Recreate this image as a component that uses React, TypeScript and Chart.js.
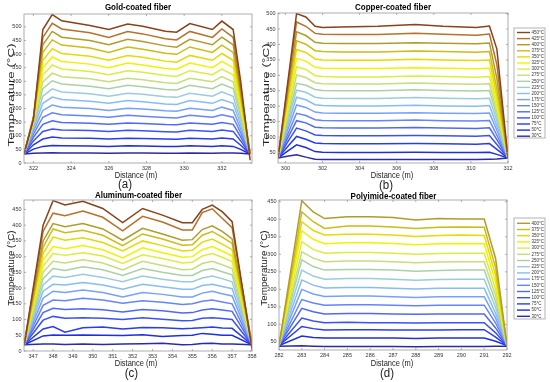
import React, { useEffect, useRef } from 'react';
import { Chart, registerables } from 'chart.js';
Chart.register(...registerables);

const FONT = '"Liberation Sans", Arial, Helvetica, sans-serif';

// Setpoint temperatures (°C) for each curve, lowest first
const setpoints = [30, 50, 75, 100, 125, 150, 175, 200, 225, 250, 275, 300, 325, 350, 375, 400, 425, 450];
const seriesLabels = setpoints.map((t) => `${t}°C`);
const seriesColors = [
  '#2b2ba8', '#1e2ee0', '#2a3cf0', '#3c50f8', '#5068fa', '#6684fc', '#78a0fc', '#88bcf4', '#9ccbdc',
  '#aad0a8', '#c4de7c', '#dcec40', '#f2f200', '#e6da00', '#ccbc14', '#b09c2a', '#b8702a', '#8a4218',
];

// (a) Gold-coated fiber
const goldX = [321.5, 322.0, 322.5, 323.0, 323.5, 325.0, 326.0, 327.0, 327.8, 329.0, 329.6, 330.3, 331.5, 332.0, 332.6, 333.0, 333.5];
const gold = [
  [33, 36, 37, 38, 37, 37, 36, 37, 37, 36, 36, 37, 36, 37, 37, 36, 33],
  [33, 51, 61, 64, 63, 62, 61, 63, 62, 61, 61, 63, 61, 63, 61, 50, 33],
  [33, 67, 88, 95, 92, 91, 88, 91, 90, 88, 87, 91, 88, 92, 88, 65, 33],
  [33, 81, 116, 125, 121, 119, 116, 120, 118, 115, 114, 120, 116, 121, 116, 81, 33],
  [33, 94, 142, 155, 149, 146, 142, 147, 145, 141, 140, 147, 142, 149, 142, 96, 33],
  [33, 106, 168, 184, 177, 173, 168, 175, 172, 167, 165, 175, 168, 177, 168, 110, 33],
  [33, 117, 193, 213, 205, 200, 193, 201, 198, 192, 190, 201, 193, 205, 193, 125, 33],
  [33, 126, 219, 242, 233, 227, 219, 229, 225, 217, 215, 229, 219, 233, 219, 140, 33],
  [33, 135, 245, 272, 261, 254, 245, 256, 252, 243, 241, 256, 245, 261, 245, 154, 33],
  [33, 143, 273, 302, 290, 282, 273, 285, 280, 270, 268, 285, 273, 290, 273, 170, 33],
  [33, 149, 298, 330, 317, 309, 298, 311, 306, 295, 292, 311, 298, 317, 298, 184, 33],
  [33, 154, 324, 360, 345, 336, 324, 339, 333, 321, 318, 339, 324, 345, 324, 199, 33],
  [33, 158, 350, 389, 373, 363, 350, 367, 360, 347, 344, 367, 350, 373, 350, 214, 33],
  [33, 162, 377, 420, 402, 392, 377, 395, 388, 374, 370, 395, 377, 402, 377, 229, 33],
  [33, 165, 406, 452, 433, 422, 406, 426, 418, 403, 399, 426, 406, 433, 406, 246, 33],
  [33, 167, 434, 483, 462, 450, 434, 454, 446, 430, 425, 454, 434, 462, 434, 261, 33],
  [33, 167, 461, 513, 492, 478, 461, 483, 474, 456, 452, 483, 461, 492, 461, 276, 33],
  [33, 160, 490, 545, 522, 505, 490, 510, 502, 484, 480, 512, 490, 521, 490, 300, 10],
];

// (b) Copper-coated fiber
const copperX = [299.6, 300.1, 300.6, 301.1, 301.6, 302.0, 303.0, 305.0, 307.0, 308.5, 310.3, 311.0, 311.4, 312.0];
const copper = [
  [32, 38, 43, 35, 28, 27, 27, 27, 27, 27, 27, 28, 29, 32],
  [32, 54, 75, 66, 53, 51, 50, 50, 51, 50, 50, 51, 44, 32],
  [32, 68, 102, 93, 81, 79, 78, 78, 79, 78, 77, 79, 60, 32],
  [32, 82, 129, 120, 107, 105, 104, 104, 105, 104, 103, 105, 76, 32],
  [32, 94, 153, 146, 132, 130, 129, 129, 131, 129, 128, 130, 92, 32],
  [32, 106, 177, 170, 156, 154, 153, 153, 155, 153, 152, 154, 106, 32],
  [32, 120, 204, 196, 181, 178, 177, 177, 179, 177, 176, 178, 122, 32],
  [32, 132, 229, 221, 205, 202, 201, 201, 203, 201, 200, 202, 136, 32],
  [32, 144, 252, 245, 229, 226, 225, 225, 228, 226, 224, 226, 151, 32],
  [32, 155, 274, 268, 254, 251, 250, 250, 253, 251, 249, 251, 167, 32],
  [32, 168, 301, 293, 276, 273, 272, 272, 275, 273, 271, 273, 180, 32],
  [32, 181, 328, 319, 299, 296, 295, 295, 298, 296, 294, 296, 195, 32],
  [32, 195, 355, 346, 326, 323, 322, 322, 325, 323, 321, 323, 212, 32],
  [32, 210, 384, 374, 353, 350, 349, 349, 352, 350, 348, 350, 232, 32],
  [32, 224, 412, 401, 380, 377, 376, 376, 379, 377, 375, 377, 256, 32],
  [32, 238, 441, 429, 407, 404, 403, 403, 406, 404, 402, 405, 290, 32],
  [32, 254, 473, 459, 436, 433, 432, 432, 436, 433, 430, 434, 335, 32],
  [32, 265, 500, 489, 459, 455, 457, 459, 465, 459, 455, 460, 385, 32],
];

// (c) Aluminum-coated fiber
const aluminumX = [346.55, 347.5, 348.0, 348.6, 349.5, 350.5, 351.5, 352.5, 353.5, 354.5, 355.0, 355.5, 356.0, 356.5, 357.0, 358.0];
const aluminum = [
  [20, 22, 22, 21, 22, 21, 22, 23, 25, 20, 21, 24, 25, 22, 22, 20],
  [20, 48, 51, 50, 51, 50, 49, 52, 46, 49, 50, 56, 53, 50, 50, 20],
  [20, 70, 78, 60, 74, 76, 70, 75, 74, 71, 72, 74, 76, 73, 72, 20],
  [20, 98, 110, 104, 106, 104, 100, 106, 101, 96, 97, 104, 106, 103, 100, 20],
  [20, 122, 136, 132, 134, 131, 124, 132, 128, 121, 122, 130, 134, 130, 126, 20],
  [20, 145, 162, 160, 168, 162, 152, 160, 155, 148, 150, 158, 162, 156, 150, 20],
  [20, 168, 190, 186, 194, 186, 172, 186, 180, 172, 172, 184, 190, 182, 175, 20],
  [20, 190, 212, 210, 218, 210, 196, 212, 204, 196, 196, 208, 212, 205, 198, 20],
  [20, 210, 238, 234, 244, 234, 220, 238, 228, 220, 220, 232, 238, 230, 220, 20],
  [20, 230, 262, 256, 268, 258, 240, 262, 250, 240, 240, 256, 262, 252, 242, 20],
  [20, 250, 285, 280, 290, 280, 258, 285, 272, 258, 260, 278, 285, 274, 262, 20],
  [20, 270, 310, 304, 312, 302, 278, 306, 294, 280, 282, 302, 310, 298, 284, 20],
  [20, 290, 332, 325, 335, 322, 296, 328, 312, 298, 300, 322, 332, 318, 302, 20],
  [20, 310, 362, 352, 360, 345, 318, 350, 335, 318, 320, 346, 356, 340, 322, 20],
  [20, 330, 388, 376, 384, 368, 335, 372, 356, 336, 338, 368, 380, 362, 342, 20],
  [20, 350, 405, 395, 405, 388, 352, 390, 372, 352, 354, 386, 398, 380, 356, 20],
  [20, 380, 438, 430, 445, 425, 382, 428, 410, 385, 385, 440, 452, 422, 392, 20],
  [19, 400, 478, 464, 476, 453, 408, 453, 432, 408, 408, 450, 464, 443, 411, 5],
];

// (d) Polyimide-coated fiber
const polyimideX = [282, 283, 283.5, 284, 285, 286, 287, 288, 289, 290, 291, 291.5, 292];
const polyimide = [
  [38, 39, 38, 37, 37, 37, 37, 36, 37, 37, 37, 38, 38],
  [40, 67, 63, 61, 61, 61, 61, 60, 61, 61, 61, 52, 40],
  [40, 94, 88, 84, 85, 85, 84, 84, 84, 85, 85, 64, 40],
  [40, 118, 110, 105, 106, 105, 105, 104, 105, 105, 105, 76, 40],
  [40, 146, 136, 130, 131, 131, 130, 129, 130, 130, 130, 90, 40],
  [40, 171, 161, 155, 156, 156, 155, 153, 155, 155, 155, 104, 40],
  [40, 200, 187, 180, 181, 181, 179, 177, 179, 179, 179, 118, 40],
  [40, 227, 212, 204, 205, 205, 203, 201, 203, 203, 203, 132, 40],
  [40, 255, 238, 229, 231, 231, 229, 226, 228, 229, 229, 148, 40],
  [40, 284, 265, 255, 257, 257, 255, 252, 254, 255, 255, 165, 40],
  [40, 307, 289, 279, 281, 281, 279, 276, 278, 279, 279, 182, 40],
  [40, 336, 314, 303, 305, 305, 303, 300, 302, 303, 303, 200, 40],
  [40, 367, 343, 330, 333, 333, 331, 327, 330, 331, 330, 220, 40],
  [40, 393, 368, 355, 357, 357, 355, 351, 354, 355, 354, 240, 40],
  [40, 421, 393, 374, 381, 381, 378, 374, 377, 378, 377, 262, 40],
  [40, 453, 421, 402, 407, 407, 405, 398, 402, 401, 401, 288, 40],
];

type LegendCfg = { dx: number; dy: number; w: number; h: number; first: number; step: number };
type PanelCfg = {
  xs: number[]; series: number[][];
  xmin: number; xmax: number; xstep: number;
  ymin: number; ymax: number;
  left: number; top: number; w: number; h: number; padR: number;
  legend?: LegendCfg;
};

const panels: PanelCfg[] = [
  { xs: goldX, series: gold, xmin: 321.5, xmax: 333.6, xstep: 2, ymin: 0, ymax: 547,
    left: 0, top: 8, w: 260, h: 167, padR: 8 },
  { xs: copperX, series: copper, xmin: 299.6, xmax: 312, xstep: 2, ymin: 16, ymax: 502,
    left: 254, top: 7, w: 296, h: 168, padR: 42,
    legend: { dx: 6, dy: 15, w: 31, h: 110, first: 4.5, step: 6.1 } },
  { xs: aluminumX, series: aluminum, xmin: 346.54, xmax: 358, xstep: 1, ymin: 0, ymax: 480,
    left: 0, top: 194, w: 260, h: 169, padR: 8 },
  { xs: polyimideX, series: polyimide, xmin: 282, xmax: 292, xstep: 1, ymin: 27, ymax: 455,
    left: 255, top: 194, w: 295, h: 168, padR: 43,
    legend: { dx: 7, dy: 18, w: 31, h: 101, first: 5.3, step: 6.2 } },
];

function framePlugin(legend?: LegendCfg) {
  return {
    id: 'frameAndLegend',
    afterDraw(chart: any) {
      const { ctx, chartArea: a, scales } = chart;
      ctx.save();
      ctx.strokeStyle = '#9a9a9a';
      ctx.lineWidth = 0.8;
      ctx.strokeRect(a.left, a.top, a.right - a.left, a.bottom - a.top);
      ctx.beginPath();
      for (const t of scales.x.ticks) {
        const px = scales.x.getPixelForValue(t.value);
        ctx.moveTo(px, a.bottom); ctx.lineTo(px, a.bottom - 2);
        ctx.moveTo(px, a.top); ctx.lineTo(px, a.top + 2);
      }
      for (const t of scales.y.ticks) {
        const py = scales.y.getPixelForValue(t.value);
        ctx.moveTo(a.left, py); ctx.lineTo(a.left + 2, py);
        ctx.moveTo(a.right, py); ctx.lineTo(a.right - 2, py);
      }
      ctx.stroke();
      if (legend) {
        const ds = chart.data.datasets;
        const x0 = a.right + legend.dx;
        const y0 = a.top + legend.dy;
        ctx.fillStyle = '#ffffff';
        ctx.fillRect(x0, y0, legend.w, legend.h);
        ctx.strokeStyle = '#a0a0a0';
        ctx.lineWidth = 0.8;
        ctx.strokeRect(x0, y0, legend.w, legend.h);
        ctx.font = `4.5px ${FONT}`;
        ctx.textBaseline = 'middle';
        ctx.textAlign = 'left';
        for (let k = 0; k < ds.length; k++) {
          const d = ds[ds.length - 1 - k];
          const y = y0 + legend.first + k * legend.step;
          ctx.strokeStyle = d.borderColor;
          ctx.lineWidth = 1.4;
          ctx.beginPath();
          ctx.moveTo(x0 + 3, y);
          ctx.lineTo(x0 + 16, y);
          ctx.stroke();
          ctx.fillStyle = '#333333';
          ctx.fillText(d.label, x0 + 17.5, y);
        }
      }
      ctx.restore();
    },
  };
}

function buildConfig(p: PanelCfg): any {
  const datasets = p.series.map((vals, i) => ({
    label: seriesLabels[i],
    data: p.xs.map((x, j) => ({ x, y: vals[j] })),
    borderColor: seriesColors[i],
    backgroundColor: seriesColors[i],
    borderWidth: 1.5,
    pointRadius: 0,
    tension: 0,
    fill: false,
    order: -i,
  }));
  const tickFont = { family: FONT, size: 5.5 };
  return {
    type: 'line',
    data: { datasets },
    options: {
      responsive: false,
      animation: false,
      devicePixelRatio: 1,
      events: [],
      layout: { padding: { left: 0, top: 6, right: p.padR, bottom: 0 } },
      plugins: { legend: { display: false }, title: { display: false }, tooltip: { enabled: false } },
      scales: {
        x: {
          type: 'linear', min: p.xmin, max: p.xmax,
          grid: { display: false, drawTicks: false }, border: { display: false },
          ticks: { stepSize: p.xstep, font: tickFont, color: '#333', padding: 2, maxRotation: 0,
            autoSkip: false, includeBounds: false, maxTicksLimit: 30 },
          afterFit: (s: any) => { s.height = 12; },
        },
        y: {
          type: 'linear', min: p.ymin, max: p.ymax,
          grid: { display: false, drawTicks: false }, border: { display: false },
          ticks: { stepSize: 50, font: tickFont, color: '#333', padding: 2.5,
            autoSkip: false, includeBounds: false, maxTicksLimit: 30 },
          afterFit: (s: any) => { s.width = 24; },
        },
      },
    },
    plugins: [framePlugin(p.legend)],
  };
}

function Panel({ p }: { p: PanelCfg }) {
  const ref = useRef<HTMLCanvasElement>(null);
  useEffect(() => {
    const chart = new Chart(ref.current as HTMLCanvasElement, buildConfig(p));
    return () => chart.destroy();
  }, []);
  return (
    <canvas ref={ref} width={p.w} height={p.h}
      style={{ position: 'absolute', left: p.left, top: p.top, width: p.w, height: p.h }} />
  );
}

type TextItem = { text: string; x: number; y: number; size: number; bold?: boolean; rot?: boolean; sx?: number; sy?: number };

const texts: TextItem[] = [
  { text: 'Gold-coated fiber', x: 138, y: 8.3, size: 8, bold: true, sy: 1.2 },
  { text: 'Copper-coated fiber', x: 393, y: 8.3, size: 8, bold: true, sy: 1.2 },
  { text: 'Aluminum-coated fiber', x: 138.5, y: 196, size: 8, bold: true, sy: 1.2 },
  { text: 'Polyimide-coated fiber', x: 393.5, y: 196.7, size: 8, bold: true, sy: 1.2 },
  { text: 'Temperature (°C)', x: 10.5, y: 94.5, size: 9.6, rot: true, sx: 1.4 },
  { text: 'Temperature (°C)', x: 266, y: 95, size: 9.6, rot: true, sx: 1.4 },
  { text: 'Temperature (°C)', x: 10.5, y: 268, size: 9.8, rot: true },
  { text: 'Temperature (°C)', x: 264, y: 268, size: 9.8, rot: true },
  { text: 'Distance (m)', x: 136, y: 175.3, size: 7.5, sy: 1.3 },
  { text: 'Distance (m)', x: 392, y: 175, size: 7.5, sy: 1.3 },
  { text: 'Distance (m)', x: 136, y: 363, size: 7.5, sy: 1.3 },
  { text: 'Distance (m)', x: 392, y: 362.5, size: 7.5, sy: 1.3 },
  { text: '(a)', x: 125, y: 184, size: 11.5, sy: 1.1 },
  { text: '(b)', x: 386, y: 185, size: 11.5, sy: 1.1 },
  { text: '(c)', x: 131.5, y: 373, size: 11.5, sy: 1.1 },
  { text: '(d)', x: 387, y: 373, size: 11.5, sy: 1.1 },
];

export default function App() {
  return (
    <div style={{ position: 'absolute', left: 0, top: 0, width: 550, height: 382, background: '#ffffff', overflow: 'hidden' }}>
      {panels.map((p, i) => <Panel key={i} p={p} />)}
      {texts.map((t, i) => (
        <div key={'t' + i} style={{
          position: 'absolute', left: t.x, top: t.y, whiteSpace: 'nowrap', lineHeight: 1,
          fontFamily: FONT, fontSize: t.size, fontWeight: t.bold ? 'bold' : 'normal',
          color: t.bold ? '#000' : '#222',
          transform: `translate(-50%, -50%)${t.rot ? ' rotate(-90deg)' : ''} scale(${t.sx ?? 1}, ${t.sy ?? 1})`,
        }}>{t.text}</div>
      ))}
    </div>
  );
}
